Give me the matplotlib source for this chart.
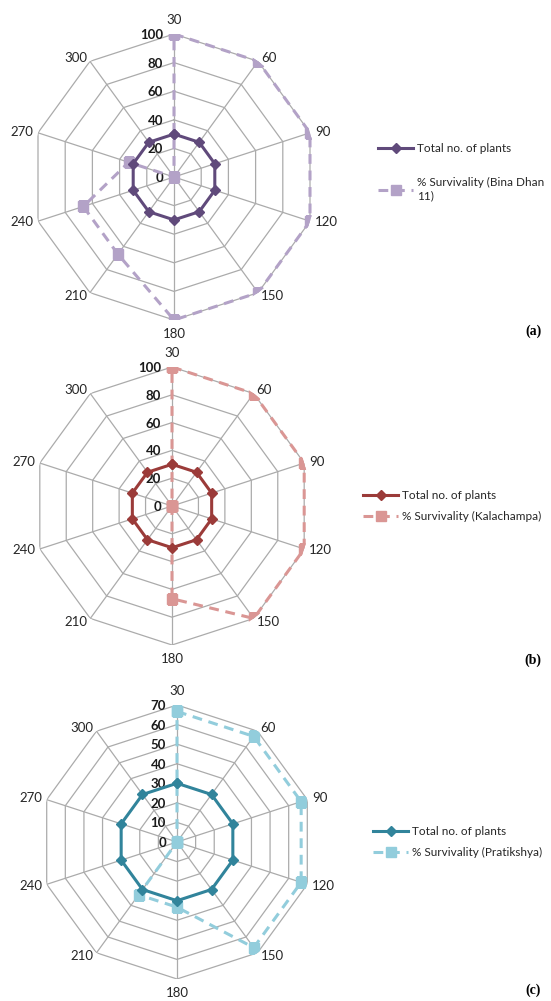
import numpy as np
import matplotlib.pyplot as plt
from matplotlib.transforms import offset_copy

plt.rcParams['font.family'] = ['Lato', 'DejaVu Sans']

# Days after transplanting (spokes of the radar)
days = ['30', '60', '90', '120', '150', '180', '210', '240', '270', '300']

# (a) Bina Dhan 11
total_a = [30, 30, 30, 30, 30, 30, 30, 30, 30, 30]
surv_a = [100, 100, 100, 100, 100, 100, 66.7, 66.7, 33.3, 0]
# (b) Kalachampa
total_b = [30, 30, 30, 30, 30, 30, 30, 30, 30, 30]
surv_b = [100, 100, 100, 100, 100, 66.7, 0, 0, 0, 0]
# (c) Pratikshya
total_c = [30, 30, 30, 30, 30, 30, 30, 30, 30, 30]
surv_c = [66.7, 66.7, 66.7, 66.7, 66.7, 33.3, 33.3, 0, 0, 0]

levels_ab = [0, 20, 40, 60, 80, 100]
levels_c = [0, 10, 20, 30, 40, 50, 60, 70]

GRID = '#ABABAB'
TXT = '#262626'


def radar(fig, rect, total, surv, levels, c_total, c_surv, surv_label,
          leg_anchor, leg_spacing, letter, letter_y):
    ax = fig.add_axes(rect, projection='polar')
    n = len(days)
    ang = np.arange(n) * 2 * np.pi / n
    ang_c = np.append(ang, ang[0])
    rmax = levels[-1]

    ax.set_theta_zero_location('N')
    ax.set_theta_direction(-1)
    ax.set_ylim(0, rmax)
    ax.grid(False)
    ax.spines['polar'].set_visible(False)
    ax.patch.set_alpha(0)
    ax.set_yticks([])
    ax.set_xticks([])

    # polygon rings and spokes
    for lv in levels[1:]:
        ax.plot(ang_c, [lv] * (n + 1), color=GRID, lw=0.9, zorder=1)
    for a in ang:
        ax.plot([a, a], [0, rmax], color=GRID, lw=0.9, zorder=1)

    # category labels just outside each vertex
    for a, lab in zip(ang, days):
        sx, cy = np.sin(a), np.cos(a)
        ha = 'center' if abs(sx) < 0.1 else ('left' if sx > 0 else 'right')
        va = 'bottom' if cy > 0.9 else ('top' if cy < -0.9 else 'center')
        dy = 8 * cy if abs(cy) > 0.9 else 4 * cy
        tr = offset_copy(ax.transData, fig=fig, x=5 * sx, y=dy, units='dots')
        ax.text(a, rmax, lab, transform=tr, ha=ha, va=va, fontsize=9.5,
                color=TXT)

    # radial value labels left of the top spoke
    tr = offset_copy(ax.transData, fig=fig, x=-11, y=-1, units='dots')
    for lv in levels:
        ax.text(0, lv, str(lv), transform=tr, ha='right', va='center',
                fontsize=9.5, fontweight='bold', color='#1a1a1a', zorder=3)

    h1, = ax.plot(ang_c, np.append(total, total[0]), color=c_total, lw=2.2,
                  marker='D', ms=5, zorder=5, label='Total no. of plants')
    h2, = ax.plot(ang_c, np.append(surv, surv[0]), color=c_surv, lw=2.2,
                  ls=(0, (3.2, 2.2)), marker='s', ms=7.5, zorder=4,
                  label=surv_label)

    fig.legend(handles=[h1, h2], loc='center left', bbox_to_anchor=leg_anchor,
               frameon=False, fontsize=8.5, handlelength=3.0,
               handletextpad=0.3, borderpad=0, borderaxespad=0,
               labelspacing=leg_spacing, labelcolor=TXT)

    fig.text(533 / 551, 1 - letter_y / 1001, letter, ha='center', va='center',
             fontsize=10, fontweight='bold', family='Liberation Serif')
    return ax


fig = plt.figure(figsize=(5.51, 10.01), dpi=100)

radar(fig, [31 / 551, 681 / 1001, 286 / 551, 286 / 1001], total_a, surv_a,
      levels_ab, '#604A7B', '#B3A2C7', '% Survivality (Bina Dhan\n11)',
      (378 / 551, 1 - 172 / 1001), 2.0, '(a)', 331)
radar(fig, [33 / 551, 356 / 1001, 278 / 551, 278 / 1001], total_b, surv_b,
      levels_ab, '#9B3B39', '#DA9694', '% Survivality (Kalachampa)',
      (363 / 551, 1 - 506 / 1001), 0.9, '(b)', 660)
radar(fig, [40 / 551, 22 / 1001, 274 / 551, 274 / 1001], total_c, surv_c,
      levels_c, '#31849B', '#92CDDC', '% Survivality (Pratikshya)',
      (373 / 551, 1 - 842 / 1001), 0.9, '(c)', 990)

fig.savefig('out.png', dpi=100)
